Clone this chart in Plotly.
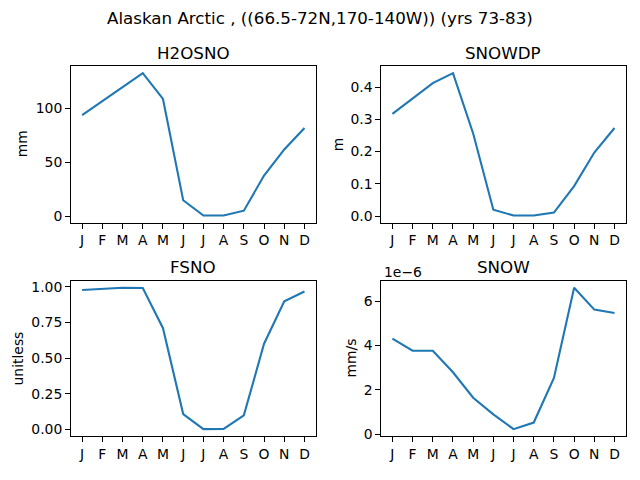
import plotly.graph_objects as go

months = ["J", "F", "M", "A", "M", "J", "J", "A", "S", "O", "N", "D"]
h2osno = [93.9, 107, 120, 133, 109, 14.7, 0.5, 0.5, 5.0, 37.7, 62, 82]
snowdp = [0.317, 0.365, 0.412, 0.443, 0.256, 0.020, 0.002, 0.002, 0.011, 0.093, 0.197, 0.273]
fsno = [0.979, 0.988, 0.995, 0.993, 0.710, 0.106, 0.0, 0.002, 0.097, 0.601, 0.899, 0.968]
snow = [4.31e-6, 3.77e-6, 3.76e-6, 2.79e-6, 1.64e-6, 0.89e-6, 0.22e-6, 0.52e-6, 2.53e-6, 6.61e-6, 5.62e-6, 5.47e-6]

titles = ["H2OSNO", "SNOWDP", "FSNO", "SNOW"]
units = ["mm", "m", "unitless", "mm/s"]
series = [h2osno, snowdp, fsno, snow]
ytickvals = [[0, 50, 100], [0.0, 0.1, 0.2, 0.3, 0.4], [0.0, 0.25, 0.5, 0.75, 1.0], [0, 2e-6, 4e-6, 6e-6]]
yticktext = [["0", "50", "100"], ["0.0", "0.1", "0.2", "0.3", "0.4"],
             ["0.00", "0.25", "0.50", "0.75", "1.00"], ["0", "2", "4", "6"]]
suptitle = "Alaskan Arctic , ((66.5-72N,170-140W)) (yrs 73-83)"

# page body has an 8px margin; lay out in window pixel coordinates
OX, OY = 8, 8
W, H = 640 - OX, 480 - OY
FONT = "DejaVu Sans"


def px(xw):
    return (xw - OX) / W


def py(yw):
    return 1 - (yw - OY) / H


# pixel boxes in window coordinates (left, right, top, bottom)
boxes = [(71.0, 315.6, 65.0, 224.3), (381.3, 625.6, 65.0, 224.3),
         (71.0, 315.6, 283.3, 441.6), (381.3, 625.6, 283.3, 441.6)]
ylabel_x = [22, 338, 18, 351]

fig = go.Figure()
annotations = []
x = list(range(len(months)))
for i, (ys, (l, r, t, b)) in enumerate(zip(series, boxes)):
    n = i + 1
    xa = "x" if n == 1 else f"x{n}"
    ya = "y" if n == 1 else f"y{n}"
    fig.add_trace(go.Scatter(x=x, y=ys, mode="lines", xaxis=xa, yaxis=ya,
                             line=dict(color="#1f77b4", width=2.1), showlegend=False,
                             hoverinfo="skip"))
    lo, hi = min(ys), max(ys)
    pad = 0.05 * (hi - lo)
    axcommon = dict(showline=True, linecolor="black", linewidth=1.1, mirror=True,
                    ticks="outside", ticklen=4.9, tickwidth=1.1, tickcolor="black",
                    showgrid=False, zeroline=False,
                    tickfont=dict(family=FONT, size=13.9, color="black"))
    fig.layout[("xaxis" if n == 1 else f"xaxis{n}")] = dict(
        domain=[px(l), px(r)], anchor=ya, range=[-0.55, len(months) - 0.45],
        tickmode="array", tickvals=x, ticktext=months, **axcommon)
    fig.layout[("yaxis" if n == 1 else f"yaxis{n}")] = dict(
        domain=[py(b), py(t)], anchor=xa, range=[lo - pad, hi + pad],
        tickmode="array", tickvals=ytickvals[i], ticktext=yticktext[i], **axcommon)
    annotations.append(dict(text=titles[i], x=px((l + r) / 2), y=py(t - 13.5),
                            xref="paper", yref="paper", showarrow=False,
                            xanchor="center", yanchor="middle",
                            font=dict(family=FONT, size=16.7, color="black")))
    annotations.append(dict(text=units[i], x=px(ylabel_x[i]), y=py((t + b) / 2),
                            xref="paper", yref="paper", showarrow=False, textangle=-90,
                            xanchor="center", yanchor="middle",
                            font=dict(family=FONT, size=13.9, color="black")))

annotations.append(dict(text="1e\u22126", x=px(381.7), y=py(275), xref="paper", yref="paper",
                        showarrow=False, xanchor="left", yanchor="middle",
                        font=dict(family=FONT, size=13.9, color="black")))
annotations.append(dict(text=suptitle, x=px(320), y=py(16.5), xref="paper", yref="paper",
                        showarrow=False, xanchor="center", yanchor="middle",
                        font=dict(family=FONT, size=16.7, color="black")))

fig.update_layout(width=W, height=H, margin=dict(l=0, r=0, t=0, b=0),
                  paper_bgcolor="white", plot_bgcolor="white",
                  annotations=annotations, font=dict(family=FONT))
fig.write_html("out.html")
